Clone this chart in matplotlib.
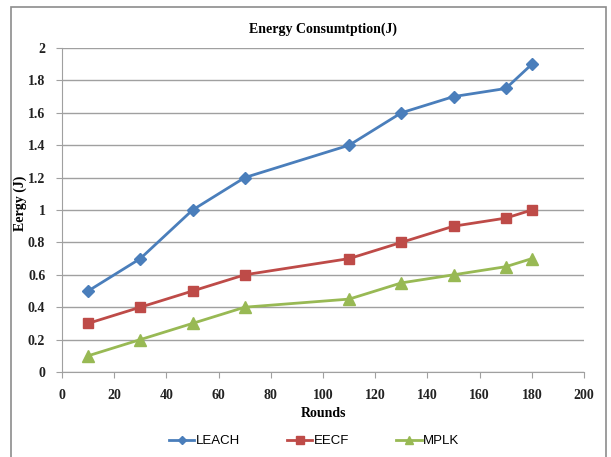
import matplotlib.pyplot as plt
from matplotlib.patches import Rectangle

rounds = [10, 30, 50, 70, 110, 130, 150, 170, 180]
leach = [0.5, 0.7, 1.0, 1.2, 1.4, 1.6, 1.7, 1.75, 1.9]
eecf = [0.3, 0.4, 0.5, 0.6, 0.7, 0.8, 0.9, 0.95, 1.0]
mplk = [0.1, 0.2, 0.3, 0.4, 0.45, 0.55, 0.6, 0.65, 0.7]

fig = plt.figure(figsize=(6.11, 4.57), dpi=100)
ax = fig.add_axes([0.1015, 0.186, 0.8545, 0.709])

# outer chart frame
W, H = 611, 457
fig.patches.append(Rectangle((11 / W, -0.05), 595 / W, 1.05 - 7 / H,
                             transform=fig.transFigure, fill=False,
                             edgecolor="#8c8c8c", lw=1.2))

ax.plot(rounds, leach, color="#4a7ebb", lw=2, marker="D", ms=6, label="LEACH")
ax.plot(rounds, eecf, color="#be4b48", lw=2, marker="s", ms=7, label="EECF")
ax.plot(rounds, mplk, color="#98b954", lw=2, marker="^", ms=8, label="MPLK")

ax.set_xlim(0, 200)
ax.set_ylim(0, 2)
ax.set_xticks(range(0, 201, 20))
ax.set_yticks([0, 0.2, 0.4, 0.6, 0.8, 1, 1.2, 1.4, 1.6, 1.8, 2])
ax.set_yticklabels(["0", "0.2", "0.4", "0.6", "0.8", "1", "1.2", "1.4", "1.6", "1.8", "2"])

ax.grid(axis="y", color="#a0a0a0", lw=1)
ax.set_axisbelow(True)
for s in ["top", "right"]:
    ax.spines[s].set_visible(False)
for s in ["left", "bottom"]:
    ax.spines[s].set_color("#a0a0a0")
ax.tick_params(colors="#a0a0a0", length=4, labelcolor="#222222", pad=8)
for lbl in ax.get_xticklabels() + ax.get_yticklabels():
    lbl.set_family("Liberation Serif")
    lbl.set_fontweight("bold")
    lbl.set_fontsize(10)

ax.set_title("Energy Consumtption(J)", family="Liberation Serif",
             fontweight="bold", fontsize=10, pad=11)
ax.set_xlabel("Rounds", family="Liberation Serif", fontweight="bold", fontsize=10)
ax.set_ylabel("Eergy (J)", family="Liberation Serif", fontweight="bold",
              fontsize=10, labelpad=1, y=0.52)

fig.legend(loc="center", bbox_to_anchor=(0.514, 0.035), ncol=3, frameon=False,
           prop={"family": "Liberation Sans", "size": 9.5}, handlelength=1.9,
           columnspacing=3.6, handletextpad=0.1, markerscale=0.75)

fig.savefig("out.png", dpi=100)
